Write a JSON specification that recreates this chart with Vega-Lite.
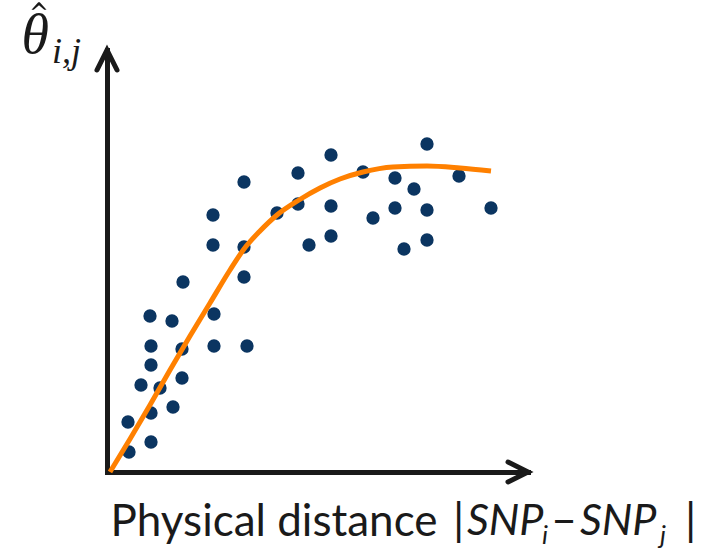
{
  "$schema": "https://vega.github.io/schema/vega-lite/v6.json",
  "width": 421,
  "height": 422,
  "autosize": {"type": "none"},
  "padding": {"left": 107, "top": 50, "right": 178, "bottom": 78},
  "background": "white",
  "config": {"view": {"stroke": null}},
  "datasets": {
    "points": [
      {"x": 21, "y": 50}, {"x": 22, "y": 20}, {"x": 34, "y": 87}, {"x": 43, "y": 156},
      {"x": 44, "y": 126}, {"x": 44, "y": 107}, {"x": 44, "y": 59}, {"x": 44, "y": 30},
      {"x": 53, "y": 84}, {"x": 65, "y": 151}, {"x": 66, "y": 65}, {"x": 75, "y": 123},
      {"x": 75, "y": 94}, {"x": 76, "y": 190}, {"x": 107, "y": 158}, {"x": 107, "y": 126},
      {"x": 106, "y": 257}, {"x": 106, "y": 227}, {"x": 137, "y": 290}, {"x": 137, "y": 225},
      {"x": 137, "y": 195}, {"x": 140, "y": 126}, {"x": 170, "y": 259}, {"x": 191, "y": 299},
      {"x": 191, "y": 268}, {"x": 202, "y": 227}, {"x": 224, "y": 317}, {"x": 224, "y": 266},
      {"x": 224, "y": 236}, {"x": 256, "y": 300}, {"x": 266, "y": 254}, {"x": 288, "y": 294},
      {"x": 288, "y": 264}, {"x": 297, "y": 223}, {"x": 307, "y": 283}, {"x": 320, "y": 328},
      {"x": 320, "y": 262}, {"x": 320, "y": 232}, {"x": 352, "y": 296}, {"x": 384, "y": 264}
    ],
    "curve": [
      {"x": 3, "y": 0}, {"x": 23, "y": 33}, {"x": 43, "y": 67}, {"x": 63, "y": 102},
      {"x": 83, "y": 136}, {"x": 103, "y": 169}, {"x": 123, "y": 202}, {"x": 137, "y": 223},
      {"x": 153, "y": 241}, {"x": 170, "y": 257}, {"x": 192, "y": 272}, {"x": 213, "y": 284},
      {"x": 233, "y": 293}, {"x": 256, "y": 300}, {"x": 286, "y": 305}, {"x": 320, "y": 306},
      {"x": 353, "y": 304}, {"x": 384, "y": 301}
    ],
    "one": [{}]
  },
  "layer": [
    {
      "data": {"name": "points"},
      "mark": {"type": "circle", "size": 177, "color": "#0b3561", "opacity": 1},
      "encoding": {
        "x": {
          "field": "x", "type": "quantitative",
          "scale": {"domain": [0, 421], "nice": false, "zero": false},
          "axis": {
            "title": "Physical distance",
            "domain": true, "domainWidth": 5, "domainColor": "#1a1a1a", "domainCap": "square",
            "ticks": false, "labels": false, "grid": false,
            "titleFont": "Lato", "titleFontSize": 44, "titleFontWeight": "normal",
            "titleColor": "#1a1a1a", "titleAlign": "left", "titleAnchor": null,
            "titleX": 3, "titleY": 63, "titleBaseline": "alphabetic"
          }
        },
        "y": {
          "field": "y", "type": "quantitative",
          "scale": {"domain": [0, 422], "nice": false, "zero": false},
          "axis": {
            "title": "θ",
            "domain": true, "domainWidth": 5, "domainColor": "#1a1a1a", "domainCap": "square",
            "ticks": false, "labels": false, "grid": false,
            "titleFont": "Liberation Serif", "titleFontSize": 56, "titleFontWeight": "normal",
            "titleFontStyle": "italic",
            "titleColor": "#1a1a1a", "titleAngle": 0, "titleAlign": "left", "titleAnchor": null,
            "titleX": -86, "titleY": 2, "titleBaseline": "alphabetic"
          }
        }
      }
    },
    {
      "data": {"name": "curve"},
      "mark": {"type": "line", "color": "#ff8000", "strokeWidth": 5, "interpolate": "monotone"},
      "encoding": {
        "x": {"field": "x", "type": "quantitative"},
        "y": {"field": "y", "type": "quantitative"}
      }
    },
    {
      "data": {"name": "one"},
      "mark": {"type": "point", "shape": "M -0.5 1 L 0 0 L 0.5 1", "filled": false, "stroke": "#1a1a1a", "strokeWidth": 5, "size": 1600, "angle": 0, "strokeCap": "round", "opacity": 1},
      "encoding": {"x": {"datum": 0, "type": "quantitative"}, "y": {"datum": 422, "type": "quantitative"}}
    },
    {
      "data": {"name": "one"},
      "mark": {"type": "point", "shape": "M -0.5 1 L 0 0 L 0.5 1", "filled": false, "stroke": "#1a1a1a", "strokeWidth": 5, "size": 1600, "angle": 90, "strokeCap": "round", "opacity": 1},
      "encoding": {"x": {"datum": 421, "type": "quantitative"}, "y": {"datum": 0, "type": "quantitative"}}
    },
    {
      "data": {"name": "one"},
      "mark": {"type": "point", "shape": "M -1 0.5 L -0.1 -0.5 L 0.1 -0.5 L 1 0.5 L 0.7 0.5 L 0 -0.1 L -0.7 0.5 Z", "filled": true, "fill": "#1a1a1a", "strokeWidth": 0, "size": 225, "opacity": 1},
      "encoding": {"x": {"datum": -68, "type": "quantitative"}, "y": {"datum": 466, "type": "quantitative"}}
    },
    {
      "data": {"name": "one"},
      "mark": {"type": "text", "text": "i,j", "font": "Liberation Serif", "fontStyle": "italic", "fontSize": 36, "align": "left", "baseline": "alphabetic", "color": "#1a1a1a"},
      "encoding": {"x": {"datum": -55, "type": "quantitative"}, "y": {"datum": 409, "type": "quantitative"}}
    },
    {
      "data": {"name": "one"},
      "mark": {"type": "text", "text": "|", "font": "Lato", "fontSize": 45, "align": "left", "baseline": "alphabetic", "color": "#1a1a1a"},
      "encoding": {"x": {"datum": 346, "type": "quantitative"}, "y": {"datum": -63, "type": "quantitative"}}
    },
    {
      "data": {"name": "one"},
      "mark": {"type": "text", "text": "SNP", "font": "Lato", "fontStyle": "italic", "fontSize": 43, "align": "left", "baseline": "alphabetic", "color": "#1a1a1a"},
      "encoding": {"x": {"datum": 360, "type": "quantitative"}, "y": {"datum": -63, "type": "quantitative"}}
    },
    {
      "data": {"name": "one"},
      "mark": {"type": "text", "text": "i", "font": "Lato", "fontStyle": "italic", "fontSize": 26, "align": "left", "baseline": "alphabetic", "color": "#1a1a1a"},
      "encoding": {"x": {"datum": 435, "type": "quantitative"}, "y": {"datum": -72, "type": "quantitative"}}
    },
    {
      "data": {"name": "one"},
      "mark": {"type": "text", "text": "–", "font": "Lato", "fontSize": 45, "align": "left", "baseline": "alphabetic", "color": "#1a1a1a"},
      "encoding": {"x": {"datum": 444, "type": "quantitative"}, "y": {"datum": -63, "type": "quantitative"}}
    },
    {
      "data": {"name": "one"},
      "mark": {"type": "text", "text": "SNP", "font": "Lato", "fontStyle": "italic", "fontSize": 43, "align": "left", "baseline": "alphabetic", "color": "#1a1a1a"},
      "encoding": {"x": {"datum": 473, "type": "quantitative"}, "y": {"datum": -63, "type": "quantitative"}}
    },
    {
      "data": {"name": "one"},
      "mark": {"type": "text", "text": "j", "font": "Lato", "fontStyle": "italic", "fontSize": 26, "align": "left", "baseline": "alphabetic", "color": "#1a1a1a"},
      "encoding": {"x": {"datum": 553, "type": "quantitative"}, "y": {"datum": -72, "type": "quantitative"}}
    },
    {
      "data": {"name": "one"},
      "mark": {"type": "text", "text": "|", "font": "Lato", "fontSize": 45, "align": "left", "baseline": "alphabetic", "color": "#1a1a1a"},
      "encoding": {"x": {"datum": 578, "type": "quantitative"}, "y": {"datum": -63, "type": "quantitative"}}
    }
  ]
}
